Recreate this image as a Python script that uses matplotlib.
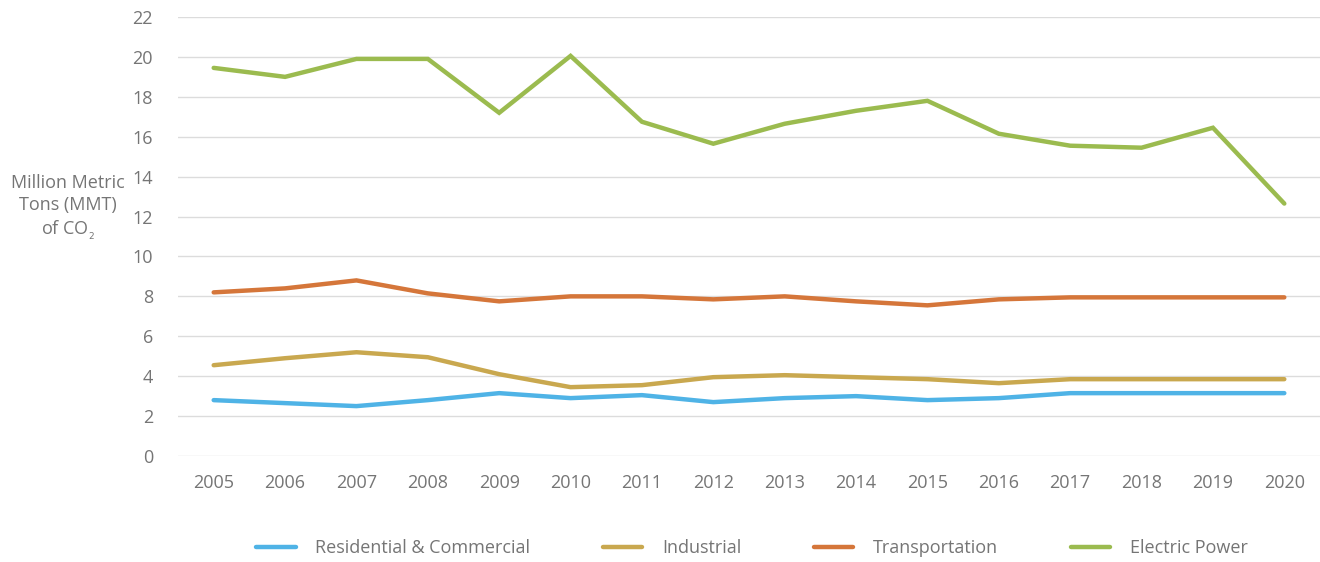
import matplotlib
matplotlib.use("Agg")
import matplotlib.pyplot as plt

years = [str(y) for y in range(2005, 2021)]
residential = [2.8, 2.65, 2.5, 2.8, 3.15, 2.9, 3.05, 2.7, 2.9, 3.0, 2.8, 2.9, 3.15, 3.15, 3.15, 3.15]
industrial = [4.55, 4.9, 5.2, 4.95, 4.1, 3.45, 3.55, 3.95, 4.05, 3.95, 3.85, 3.65, 3.85, 3.85, 3.85, 3.85]
transportation = [8.2, 8.4, 8.8, 8.15, 7.75, 8.0, 8.0, 7.85, 8.0, 7.75, 7.55, 7.85, 7.95, 7.95, 7.95, 7.95]
electric = [19.45, 19.0, 19.9, 19.9, 17.2, 20.05, 16.75, 15.65, 16.65, 17.3, 17.8, 16.15, 15.55, 15.45, 16.45, 12.65]

series = [
    ("Residential & Commercial", residential, "#4fb3e6"),
    ("Industrial", industrial, "#c9a84f"),
    ("Transportation", transportation, "#d5763a"),
    ("Electric Power", electric, "#9bbb4f"),
]

text_color = "#757575"
plt.rcParams['font.family'] = ['Open Sans', 'DejaVu Sans']

fig = plt.figure(figsize=(13.2, 5.62), dpi=100)
ax = fig.add_axes([178 / 1320, 1 - 456 / 562, 1 - 178 / 1320, (456 - 17) / 562])

x = list(range(len(years)))
for name, vals, col in series:
    ax.plot(x, vals, color=col, lw=3.2, label=name, solid_capstyle='round', solid_joinstyle='miter')

ax.set_xlim(-0.5, len(years) - 0.5)
ax.set_ylim(0, 22)
ax.set_yticks(range(0, 23, 2))
ax.set_xticks(x)
ax.set_xticklabels(years)
ax.grid(axis='y', color='#dcdcdc', lw=1)
ax.set_axisbelow(True)
for s in ax.spines.values():
    s.set_visible(False)
ax.tick_params(axis='both', length=0, colors=text_color, labelsize=13)
ax.tick_params(axis='y', pad=18)
ax.tick_params(axis='x', pad=13)

# y label, centred lines, small subscript
fig.text(68 / 1320, 1 - 208 / 562, "Million Metric\nTons (MMT)\nof CO$_{_2}$", ha='center', va='center',
         color=text_color, fontsize=13, linespacing=1.3)

fig.legend(loc='center', bbox_to_anchor=(752 / 1320, 1 - 548 / 562), ncol=4, frameon=False,
           fontsize=13, handlelength=2.2, handletextpad=1.1, columnspacing=4.0, labelcolor=text_color)

fig.savefig("out.png", dpi=100)
